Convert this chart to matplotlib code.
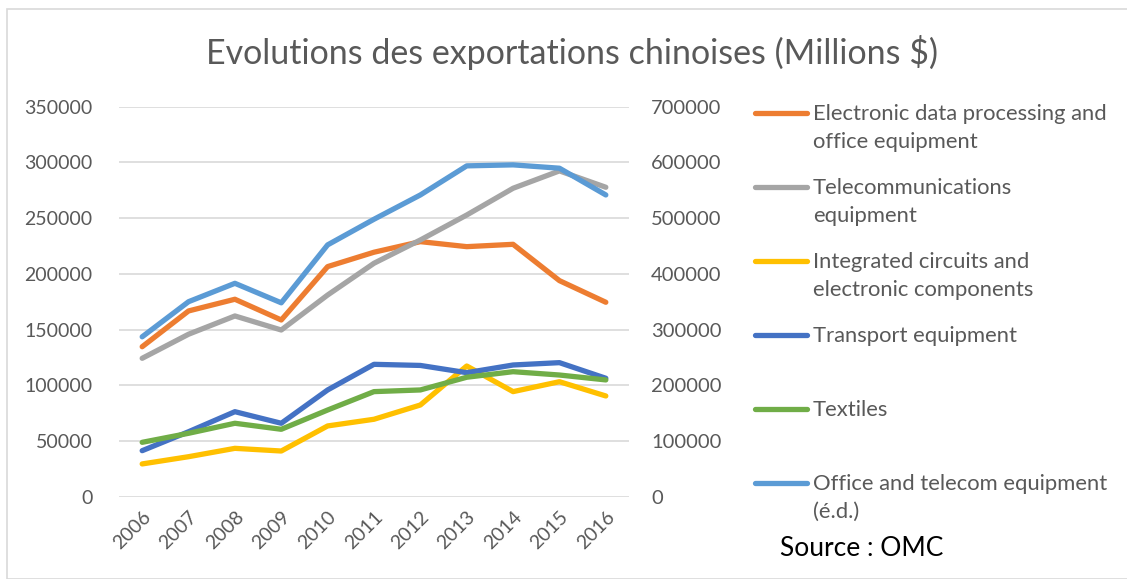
import matplotlib.pyplot as plt
from matplotlib.lines import Line2D
from matplotlib.patches import Rectangle

plt.rcParams['font.family'] = ['Lato', 'DejaVu Sans']

years = ['2006', '2007', '2008', '2009', '2010', '2011', '2012', '2013', '2014', '2015', '2016']

# Millions $
edp_office = [134600, 166700, 177200, 158600, 206500, 219400, 228900, 224400, 226500, 193900, 174500]
telecom = [124200, 145800, 162200, 149600, 181000, 209500, 230400, 252800, 276800, 292400, 277700]
circuits = [29400, 35900, 43400, 41000, 63500, 69500, 82300, 117300, 94300, 103200, 90400]
transport = [41300, 58300, 76300, 65900, 95800, 118800, 117800, 111300, 118200, 120300, 106300]
textiles = [48800, 56900, 65900, 60500, 77800, 94300, 95800, 107200, 112200, 109200, 104800]
office_telecom = [287000, 350000, 383000, 348000, 452000, 498000, 541600, 593800, 595600, 589600, 541600]  # right axis

W, H = 1127, 579
fig = plt.figure(figsize=(W / 100, H / 100), dpi=100)

# light chart border
fig.add_artist(Rectangle((6.5 / W, 0), 1.2, 1 - 8.5 / H, transform=fig.transFigure,
                         fill=False, edgecolor='#d9d9d9', linewidth=1.2))

ax = fig.add_axes([119 / W, 1 - 496.7 / H, (629 - 119) / W, (496.7 - 106.7) / H])
ax2 = ax.twinx()

x = range(len(years))
left_series = [
    (edp_office, '#ED7D31', 'Electronic data processing and\noffice equipment'),
    (telecom, '#A5A5A5', 'Telecommunications\nequipment'),
    (circuits, '#FFC000', 'Integrated circuits and\nelectronic components'),
    (transport, '#4472C4', 'Transport equipment'),
    (textiles, '#70AD47', 'Textiles'),
]
for vals, col, lab in left_series:
    ax.plot(x, vals, color=col, lw=3.8, solid_capstyle='round', solid_joinstyle='round', zorder=3)
ax2.plot(x, office_telecom, color='#5B9BD5', lw=3.8, solid_capstyle='round',
         solid_joinstyle='round', zorder=3)

ax.set_ylim(0, 350000)
ax2.set_ylim(0, 700000)
ax.set_yticks(range(0, 350001, 50000))
ax2.set_yticks(range(0, 700001, 100000))
ax.set_xlim(-0.5, len(years) - 0.5)
ax.set_xticks(list(x))
ax.set_xticklabels(years, rotation=45, ha='right', rotation_mode='anchor')

ax.grid(axis='y', color='#d9d9d9', linewidth=1.2)
ax.set_axisbelow(True)
for a in (ax, ax2):
    for s in a.spines.values():
        s.set_visible(False)
    a.tick_params(length=0, labelsize=14, labelcolor='#595959')
ax.tick_params(axis='y', pad=19)
ax2.tick_params(axis='y', pad=16)
ax2.tick_params(axis='y', labelsize=14.5)
ax.tick_params(axis='x', pad=8)

fig.text(572 / W, 1 - 53 / H, 'Evolutions des exportations chinoises (Millions $)',
         ha='center', va='center', fontsize=24.5, color='#595959')

# legend, drawn by hand to mimic the spreadsheet layout
entries = left_series + [(office_telecom, '#5B9BD5', 'Office and telecom equipment\n(é.d.)')]
for i, (_, col, lab) in enumerate(entries):
    ly = 112.5 + i * 74
    fig.add_artist(Line2D([755 / W, 807 / W], [1 - ly / H, 1 - ly / H], color=col, lw=3.8,
                          solid_capstyle='round', transform=fig.transFigure))
    fig.text(813 / W, 1 - (ly - 9) / H, lab, ha='left', va='top', fontsize=15.8,
             color='#595959', linespacing=1.5)

fig.text(780 / W, 1 - 549 / H, 'Source : OMC', ha='left', va='center', fontsize=19, color='black')

fig.savefig('out.png', dpi=100)
